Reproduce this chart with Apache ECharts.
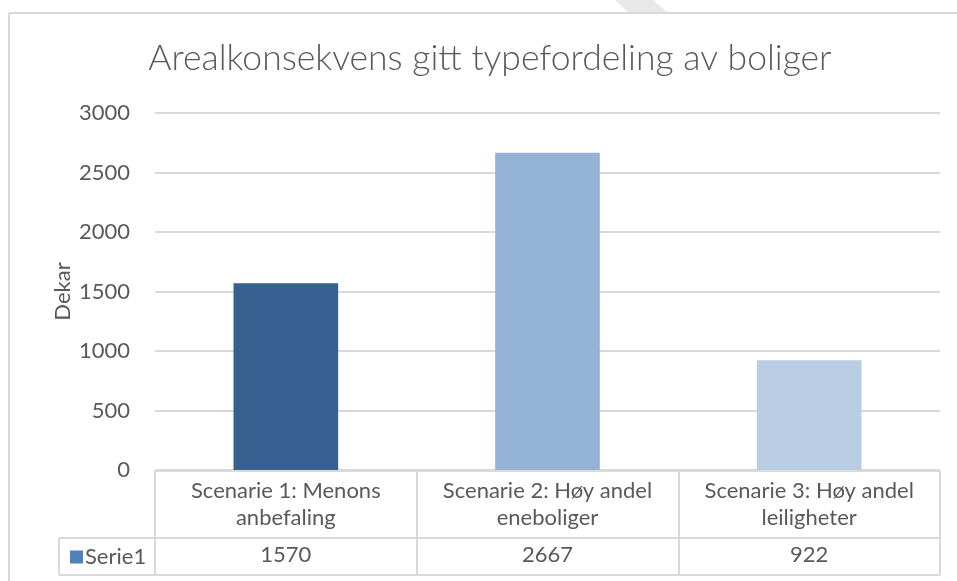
<!DOCTYPE html>
<html>
<head>
<meta charset="utf-8">
<script src="https://cdn.jsdelivr.net/npm/echarts@6/dist/echarts.min.js"></script>
<style>
  html, body { margin: 0; padding: 0; background: #fff; }
  #main { width: 957px; height: 581px; }
</style>
</head>
<body>
<div id="main"></div>
<script>
// data
var categories = ['Scenarie 1: Menons\nanbefaling', 'Scenarie 2: Høy andel\neneboliger', 'Scenarie 3: Høy andel\nleiligheter'];
var values = [1570, 2667, 922];
var barColors = ['#36608f', '#95b3d7', '#b9cde5'];
var seriesName = 'Serie1';

var font = 'Lato, "Open Sans", sans-serif';
var textColor = '#595959';
var lineColor = '#d9d9d9';
var fs = 22;

var chart = echarts.init(document.getElementById('main'));

// tabell-linjer under aksen (posisjoner i px)
var tblLeft = 59, tblRight = 940, rowTop = 471, rowMid = 538, rowBot = 575;
function hline(x1, x2, y) {
  return { type: 'line', shape: { x1: x1, y1: y, x2: x2, y2: y }, style: { stroke: lineColor, lineWidth: 2 }, silent: true };
}
function vline(x, y1, y2) {
  return { type: 'line', shape: { x1: x, y1: y1, x2: x, y2: y2 }, style: { stroke: lineColor, lineWidth: 2 }, silent: true };
}

var option = {
  animation: false,
  backgroundColor: '#fff',
  title: {
    text: 'Arealkonsekvens gitt typefordeling av boliger',
    left: 485,
    textAlign: 'center',
    top: 36,
    textStyle: { fontFamily: font, fontWeight: 300, fontSize: 35.5, color: textColor }
  },
  legend: {
    data: [seriesName],
    left: 65,
    top: 541,
    padding: 5,
    icon: 'rect',
    itemWidth: 13,
    itemHeight: 13,
    itemGap: 4,
    textStyle: { fontFamily: font, fontSize: fs, color: textColor, padding: [0, 0, 0, -3] }
  },
  grid: { left: 155, right: 17, top: 113, bottom: 111, containLabel: false },
  xAxis: [{
    type: 'category',
    data: categories,
    axisLine: { show: false },
    axisTick: { show: true, length: 105, lineStyle: { color: lineColor, width: 2 } },
    axisLabel: { fontFamily: font, fontSize: fs, color: textColor, lineHeight: 27, margin: 7, interval: 0 }
  }, {
    type: 'category',
    position: 'bottom',
    data: values.map(String),
    offset: 74,
    axisLine: { show: false },
    axisTick: { show: false },
    axisLabel: { fontFamily: font, fontSize: fs, color: textColor, margin: 0, interval: 0 }
  }],
  yAxis: {
    type: 'value',
    min: 0,
    max: 3000,
    interval: 500,
    name: 'Dekar',
    nameLocation: 'middle',
    nameRotate: 90,
    nameGap: 81,
    nameMoveOverlap: false,
    nameTextStyle: { fontFamily: font, fontSize: fs, color: textColor },
    axisLine: { show: false },
    axisTick: { show: false },
    axisLabel: { fontFamily: font, fontSize: fs, color: textColor, margin: 25, formatter: function (v) { return String(v); } },
    splitLine: { lineStyle: { color: lineColor, width: 2 } }
  },
  series: [{
    name: seriesName,
    type: 'bar',
    xAxisIndex: 0,
    barWidth: '40%',
    itemStyle: { color: '#4f81bd' },
    data: values.map(function (v, i) {
      return { value: v, itemStyle: { color: barColors[i] } };
    })
  }],
  graphic: [
    // ramme rundt diagrammet
    hline(9, 957, 13),
    vline(9, 13, 581),
    // lys diagonal i toppen
    { type: 'polygon', shape: { points: [[615, 0], [653, 0], [667, 12], [628, 12]] }, style: { fill: '#e8e8e8' }, silent: true },
    // datatabell
    hline(155, tblRight, rowTop),
    hline(tblLeft, tblRight, rowMid),
    hline(tblLeft, tblRight, rowBot),
    vline(tblLeft, rowMid, rowBot)
  ]
};

chart.setOption(option);
</script>
</body>
</html>
